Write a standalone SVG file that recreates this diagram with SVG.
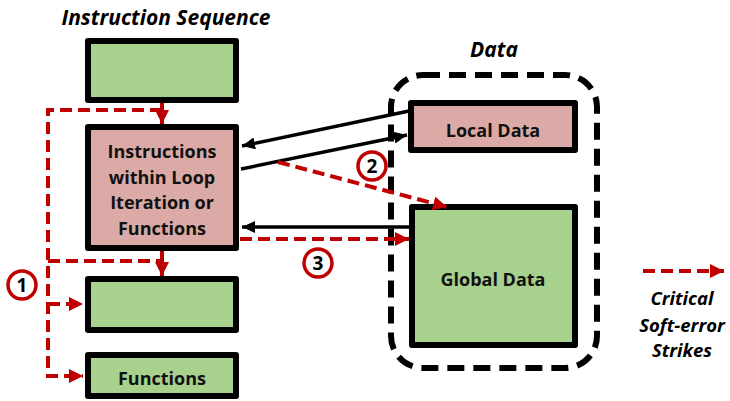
<svg xmlns="http://www.w3.org/2000/svg" width="730" height="401" viewBox="0 0 730 401">
<defs>
<style>
.box{stroke:#000;stroke-width:6;stroke-linejoin:round}
.green{fill:#A9D18E}
.pink{fill:#DBAAA7}
.lbl{font-family:"Open Sans","Liberation Sans",sans-serif;font-weight:bold;font-size:18px;fill:#111;text-anchor:middle}
.title{font-family:"Open Sans","Liberation Sans",sans-serif;font-weight:bold;font-style:italic;font-size:21px;fill:#000;text-anchor:middle}
.leg{font-family:"Open Sans","Liberation Sans",sans-serif;font-weight:bold;font-style:italic;font-size:18.5px;fill:#000;text-anchor:middle}
.blk{stroke:#000;stroke-width:3.5;fill:none}
.red{stroke:#C00000;stroke-width:4;fill:none;stroke-dasharray:12 6}
.redsolid{stroke:#C00000;stroke-width:4;fill:none}
.num{fill:#fff;stroke:#C00000;stroke-width:3.5}
.numt{font-family:"Open Sans","Liberation Sans",sans-serif;font-weight:bold;font-size:19px;fill:#000;text-anchor:middle}
</style>
<marker id="ar" markerUnits="userSpaceOnUse" markerWidth="16" markerHeight="16" refX="14" refY="7" orient="auto" viewBox="0 0 16 16">
<path d="M0,0 L14,7 L0,14 z" fill="#C00000"/>
</marker>
<marker id="ab" markerUnits="userSpaceOnUse" markerWidth="16" markerHeight="16" refX="13" refY="6" orient="auto" viewBox="0 0 16 16">
<path d="M0,0 L13,6 L0,12 z" fill="#000"/>
</marker>
</defs>
<rect width="730" height="401" fill="#fff"/>

<text class="title" x="166" y="25">Instruction Sequence</text>
<text class="title" x="494" y="57">Data</text>

<g id="data-container">
<rect x="391" y="75" width="206" height="293" rx="32" ry="32" fill="none" stroke="#000" stroke-width="6" stroke-dasharray="17 9"/>
</g>

<g id="seq-top"><rect class="box green" x="88" y="41" width="148" height="59"/></g>
<g id="loop-instr"><rect class="box pink" x="88" y="127" width="148" height="121"/>
<text class="lbl" x="162" y="158">Instructions</text>
<text class="lbl" x="162" y="184">within Loop</text>
<text class="lbl" x="162" y="209">Iteration or</text>
<text class="lbl" x="162" y="235">Functions</text></g>
<g id="seq-next"><rect class="box green" x="88" y="279" width="148" height="51"/></g>
<g id="functions"><rect class="box green" x="88" y="355" width="148" height="41"/>
<text class="lbl" x="162" y="385">Functions</text></g>
<g id="local-data"><rect class="box pink" x="411" y="103" width="164" height="47"/>
<text class="lbl" x="493" y="137">Local Data</text></g>
<g id="global-data"><rect class="box green" x="412" y="207" width="163" height="138"/>
<text class="lbl" x="493" y="286">Global Data</text></g>

<g id="connectors">
<line class="blk" x1="409" y1="111" x2="242" y2="146" marker-end="url(#ab)"/>
<line class="blk" x1="241" y1="169" x2="407" y2="135" marker-end="url(#ab)"/>
<line class="blk" x1="409" y1="227" x2="242" y2="227" marker-end="url(#ab)"/>
<line class="red" x1="278" y1="162" x2="447" y2="207" marker-end="url(#ar)"/>
<line class="red" x1="240" y1="239" x2="409" y2="239" marker-end="url(#ar)"/>
<line class="redsolid" x1="162" y1="103" x2="162" y2="124" marker-end="url(#ar)"/>
<polyline class="red" points="162,110 48,110 48,376 83,376" marker-end="url(#ar)"/>
<polyline class="red" points="48,261 162,261"/>
<line class="red" x1="162" y1="251" x2="162" y2="276" marker-end="url(#ar)"/>
<line class="red" x1="48" y1="304" x2="83" y2="304" marker-end="url(#ar)"/>
</g>

<g id="strike-1"><circle class="num" cx="22" cy="285" r="14"/><text class="numt" x="22" y="292">1</text></g>
<g id="strike-2"><circle class="num" cx="372" cy="166" r="14"/><text class="numt" x="372" y="173">2</text></g>
<g id="strike-3"><circle class="num" cx="318" cy="263" r="14"/><text class="numt" x="318" y="270">3</text></g>

<g id="legend">
<line class="red" x1="643" y1="271" x2="724" y2="271" marker-end="url(#ar)"/>
<text class="leg" x="682" y="305">Critical</text>
<text class="leg" x="682" y="332">Soft-error</text>
<text class="leg" x="682" y="357">Strikes</text>
</g>
</svg>
